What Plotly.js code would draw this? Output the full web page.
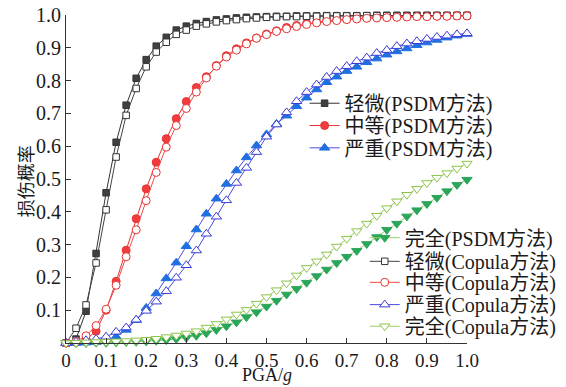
<!DOCTYPE html>
<html>
<head>
<meta charset="utf-8">
<script src="https://cdn.plot.ly/plotly-3.0.1.min.js"></script>
<style>html,body{margin:0;padding:0;background:#fff;}#chart{width:566px;height:387px;}</style>
</head>
<body>
<div id="chart"></div>
<script>
const pga = [0,0.025,0.05,0.075,0.1,0.125,0.15,0.175,0.2,0.225,0.25,0.275,0.3,0.325,0.35,0.375,0.4,0.425,0.45,0.475,0.5,0.525,0.55,0.575,0.6,0.625,0.65,0.675,0.7,0.725,0.75,0.775,0.8,0.825,0.85,0.875,0.9,0.925,0.95,0.975,1.0];

const slightPSDM = [0,0.012,0.097,0.273,0.458,0.612,0.725,0.807,0.864,0.905,0.932,0.954,0.966,0.974,0.980,0.985,0.988,0.991,0.993,0.994,0.995,0.996,0.996,0.997,0.997,0.997,0.998,0.998,0.998,0.998,0.998,0.999,0.999,0.999,0.999,0.999,0.999,0.999,0.999,0.999,0.999];
const moderatePSDM = [0,0.002,0.012,0.036,0.100,0.188,0.283,0.379,0.470,0.551,0.623,0.684,0.736,0.779,0.812,0.846,0.876,0.897,0.915,0.930,0.942,0.952,0.962,0.968,0.974,0.978,0.982,0.985,0.987,0.989,0.991,0.992,0.993,0.994,0.995,0.996,0.996,0.997,0.997,0.998,0.998];
const severePSDM = [0,0,0.001,0.003,0.008,0.019,0.040,0.070,0.107,0.151,0.197,0.245,0.295,0.346,0.394,0.440,0.485,0.526,0.566,0.602,0.636,0.668,0.693,0.722,0.748,0.773,0.795,0.812,0.829,0.842,0.856,0.867,0.879,0.889,0.898,0.908,0.916,0.924,0.931,0.937,0.942];
const collapsePSDM = [0,0,0,0.001,0.001,0.002,0.003,0.004,0.005,0.007,0.009,0.012,0.016,0.022,0.030,0.040,0.051,0.063,0.079,0.094,0.111,0.129,0.148,0.165,0.184,0.204,0.224,0.244,0.263,0.281,0.302,0.323,0.345,0.364,0.386,0.405,0.424,0.443,0.463,0.482,0.498];

const slightCopula = [0,0.045,0.116,0.244,0.406,0.567,0.694,0.776,0.842,0.887,0.917,0.941,0.954,0.966,0.973,0.979,0.983,0.986,0.989,0.991,0.993,0.994,0.995,0.995,0.996,0.996,0.997,0.997,0.997,0.997,0.998,0.998,0.998,0.998,0.998,0.998,0.998,0.998,0.998,0.998,0.998];
const moderateCopula = [0,0.005,0.022,0.053,0.103,0.176,0.263,0.345,0.434,0.520,0.597,0.663,0.715,0.765,0.808,0.844,0.872,0.893,0.912,0.929,0.940,0.950,0.958,0.965,0.971,0.976,0.980,0.983,0.986,0.988,0.990,0.991,0.992,0.993,0.994,0.995,0.995,0.996,0.996,0.997,0.997];
const severeCopula = [0,0.004,0.008,0.012,0.019,0.034,0.047,0.071,0.098,0.126,0.158,0.199,0.237,0.282,0.333,0.385,0.435,0.488,0.534,0.582,0.629,0.666,0.703,0.737,0.765,0.788,0.811,0.829,0.844,0.859,0.870,0.884,0.893,0.905,0.913,0.920,0.927,0.933,0.937,0.941,0.944];
const collapseCopula = [0,0.001,0.002,0.003,0.004,0.005,0.006,0.008,0.010,0.013,0.018,0.023,0.029,0.036,0.047,0.058,0.072,0.087,0.101,0.120,0.140,0.161,0.182,0.206,0.229,0.249,0.270,0.294,0.318,0.341,0.364,0.388,0.411,0.432,0.452,0.470,0.488,0.504,0.518,0.532,0.547];

const seriesNames = ['轻微(PSDM方法)','中等(PSDM方法)','严重(PSDM方法)','完全(PSDM方法)','轻微(Copula方法)','中等(Copula方法)','严重(Copula方法)','完全(Copula方法)'];
const xTickVals = [0,0.1,0.2,0.3,0.4,0.5,0.6,0.7,0.8,0.9,1.0];
const xTickText = ['0','0.1','0.2','0.3','0.4','0.5','0.6','0.7','0.8','0.9','1.0'];
const yTickVals = [0.1,0.2,0.3,0.4,0.5,0.6,0.7,0.8,0.9,1.0];
const yTickText = ['0.1','0.2','0.3','0.4','0.5','0.6','0.7','0.8','0.9','1.0'];
const xTitle = 'PGA/<i>g</i>';
const yTitle = '损伤概率';

const FONT = "Liberation Serif, Noto Sans CJK SC, serif";

const styles = [
  {line:'#333333', sym:'square', size:6.5, fill:'#404040', edge:'#333333'},
  {line:'#e83232', sym:'circle', size:8, fill:'#f03c3c', edge:'#e83232'},
  {line:'#4a4ae0', sym:'triangle-up', size:9, fill:'#1f6fe0', edge:'#1f6fe0'},
  {line:'#a0cc60', sym:'triangle-down', size:9, fill:'#2aa65a', edge:'#2aa65a'},
  {line:'#444444', sym:'square', size:6.5, fill:'#ffffff', edge:'#333333'},
  {line:'#f04a4a', sym:'circle', size:8, fill:'#ffffff', edge:'#e83232'},
  {line:'#4a4ae0', sym:'triangle-up', size:9, fill:'#ffffff', edge:'#3a3ad8'},
  {line:'#a0cc60', sym:'triangle-down', size:9, fill:'#ffffff', edge:'#8cc448'}
];
const ys = [slightPSDM, moderatePSDM, severePSDM, collapsePSDM, slightCopula, moderateCopula, severeCopula, collapseCopula];
const legendIds = ['legend','legend2','legend3','legend4','legend5','legend6','legend7','legend8'];

const traces = ys.map((y,i)=>({
  type:'scatter', mode:'lines+markers', x:pga, y:y, name:seriesNames[i],
  legend: legendIds[i],
  cliponaxis:false,
  line:{color:styles[i].line, width:1},
  marker:{symbol:styles[i].sym, size:styles[i].size, color:styles[i].fill, line:{color:styles[i].edge, width:1}}
}));

// legend placement (paper coords)
const legX = [0.595, 0.595, 0.595, 0.745, 0.745, 0.745, 0.745, 0.745];
const legY = [0.731, 0.663, 0.595, 0.321, 0.249, 0.185, 0.117, 0.051];

const layout = {
  width:566, height:387,
  margin:{l:66, r:99, t:15, b:44, pad:0, autoexpand:false},
  paper_bgcolor:'#ffffff', plot_bgcolor:'#ffffff',
  font:{family:FONT, size:20, color:'#1a1a1a'},
  xaxis:{
    range:[0,1], showgrid:false, zeroline:false, showline:true, linecolor:'#333', linewidth:1,
    ticks:'inside', ticklen:5, tickcolor:'#333', tickmode:'array', tickvals:xTickVals, ticktext:xTickText,
    tickfont:{family:FONT, size:19, color:'#1a1a1a'}
  },
  yaxis:{
    range:[0,1], showgrid:false, zeroline:false, showline:true, linecolor:'#333', linewidth:1,
    ticks:'inside', ticklen:5, tickcolor:'#333', tickmode:'array', tickvals:yTickVals, ticktext:yTickText,
    tickfont:{family:FONT, size:20, color:'#1a1a1a'}
  },
  annotations:[
    {text:xTitle, xref:'paper', yref:'paper', x:0.5, y:-0.131, xanchor:'center', yanchor:'bottom', showarrow:false, borderpad:0,
     font:{family:FONT, size:18, color:'#1a1a1a'}},
    {text:yTitle, xref:'paper', yref:'paper', x:-0.098, y:0.492, xanchor:'center', yanchor:'middle', textangle:-90, showarrow:false,
     font:{family:FONT, size:18, color:'#1a1a1a'}}
  ],
  showlegend:true
};
legendIds.forEach((id,i)=>{
  layout[id] = {x:legX[i], y:legY[i], xanchor:'left', yanchor:'middle', bgcolor:'rgba(0,0,0,0)', borderwidth:0,
    font:{family:FONT, size:20, color:'#1a1a1a'}, itemwidth:30, tracegroupgap:0};
});

Plotly.newPlot('chart', traces, layout, {displayModeBar:false, staticPlot:true});
</script>
</body>
</html>
